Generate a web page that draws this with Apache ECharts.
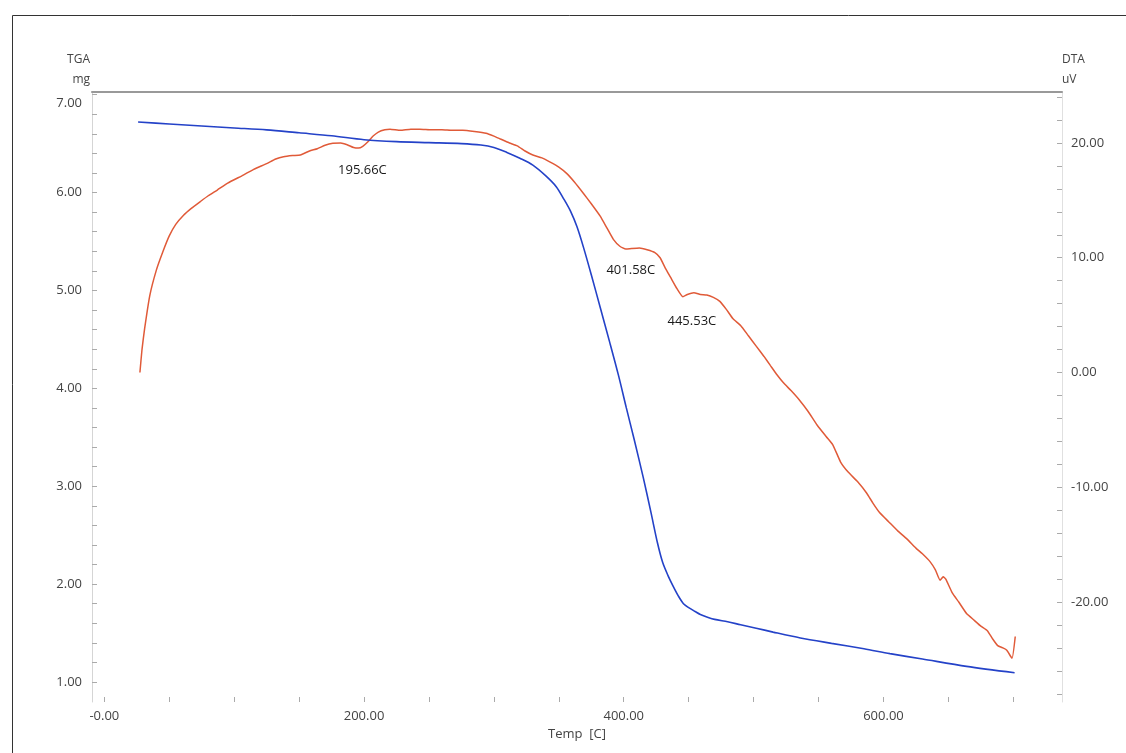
<!DOCTYPE html>
<html>
<head>
<meta charset="utf-8">
<script src="https://cdn.jsdelivr.net/npm/echarts@6/dist/echarts.min.js"></script>
<style>
html,body{margin:0;padding:0;background:#fff;}
#chart{width:1126px;height:753px;}
</style>
</head>
<body>
<div id="chart"></div>
<script>
// ---- Data ----
const tgaTemp = [26,50,75,100,125,150,175,200,225,250,275,290,300,310,320,330,340,348,354,359,364,369,375,382,389,396,402,408,415,421,426,430,434,438,442,446,450,455,459,465,470,480,490,502,515,536,560,585,605,630,664,701];
const tgaMass = [6.72,6.70,6.68,6.66,6.64,6.61,6.58,6.54,6.52,6.51,6.50,6.485,6.46,6.41,6.35,6.28,6.17,6.06,5.93,5.81,5.65,5.44,5.16,4.82,4.48,4.13,3.80,3.48,3.09,2.73,2.42,2.22,2.09,1.98,1.88,1.80,1.76,1.72,1.69,1.66,1.64,1.615,1.585,1.55,1.51,1.45,1.395,1.34,1.29,1.235,1.16,1.095];

const dtaTemp = [27.4,29,31,35,40,45,50,55,61,67,74,80,87,95,107,115,125,132,138,145,151,158,164,170,176,182,187,192,195.66,199,203,207,211,216,220,228,236,243,252,260,268,276,285,294,300,305,312,318,324,330,337,343,350,356,362,369,375,382,387,392,397,401.58,406,412,418,424,428,432,436,441,445.53,449,454,459,464,469,474,479,484,490,496,502,508,513,518,523,529,536,542,549,556,561,567,573,580,587,592,597,604,611,618,625,630,636,640,643.6,646,648,653,658,664,670,675,680,684,688,692,695,699,701.5];
const dtaSignal = [0.0,2.0,3.8,6.7,8.9,10.5,11.9,12.9,13.7,14.3,14.9,15.4,15.9,16.5,17.2,17.7,18.2,18.6,18.8,18.9,18.95,19.3,19.5,19.8,19.97,20.0,19.85,19.6,19.55,19.7,20.1,20.6,20.95,21.15,21.2,21.1,21.2,21.2,21.15,21.15,21.1,21.1,21.0,20.85,20.6,20.35,20.0,19.75,19.3,18.95,18.7,18.35,17.9,17.35,16.6,15.6,14.7,13.6,12.6,11.6,11.0,10.75,10.8,10.85,10.7,10.45,10.0,9.1,8.3,7.3,6.6,6.8,6.95,6.8,6.75,6.55,6.2,5.5,4.7,4.1,3.2,2.3,1.4,0.6,-0.2,-0.9,-1.6,-2.5,-3.4,-4.6,-5.6,-6.3,-7.8,-8.7,-9.5,-10.5,-11.4,-12.2,-13.0,-13.8,-14.5,-15.3,-15.8,-16.5,-17.2,-18.1,-17.8,-18.0,-19.2,-20.0,-21.0,-21.6,-22.1,-22.5,-23.2,-23.8,-24.0,-24.2,-24.9,-23.0];

const peakTemps = [195.66, 401.58, 445.53];
const peakLabels = ['195.66C', '401.58C', '445.53C'];

const tempTickLabels = [0, 200, 400, 600];
const tgaTickLabels = [1, 2, 3, 4, 5, 6, 7];
const dtaTickLabels = [-20, -10, 0, 10, 20];

// ---- Build ----
function range(a, b, step) { const r = []; for (let v = a; v <= b + 1e-9; v += step) r.push(+v.toFixed(4)); return r; }
const tgaData = tgaTemp.map((t, i) => [t, tgaMass[i]]);
const dtaData = dtaTemp.map((t, i) => [t, dtaSignal[i]]);
const peakOffsets = [[4, 22], [5, 21], [9, 25]];
const peakPoints = peakTemps.map((t, i) => {
  const idx = dtaTemp.indexOf(t);
  return { coord: [t, dtaSignal[idx]], label: { formatter: peakLabels[i], offset: peakOffsets[i] } };
});

const FONT = 'Open Sans';
const LABEL_COLOR = '#444';
const chart = echarts.init(document.getElementById('chart'), null, { renderer: 'canvas' });
chart.setOption({
  animation: false,
  backgroundColor: '#fff',
  textStyle: { fontFamily: FONT },
  graphic: [{
    type: 'rect', left: 10, top: 13, silent: true, z: -1,
    shape: { width: 1200, height: 800 },
    style: { fill: 'none', stroke: '#333', lineWidth: 1 }
  }],
  grid: { left: 92, right: 64, top: 92, bottom: 51, containLabel: false },
  xAxis: [{
    type: 'value', min: -9.5, max: 737.5, position: 'bottom',
    name: 'Temp  [C]', nameLocation: 'middle', nameGap: 26,
    nameTextStyle: { color: LABEL_COLOR, fontSize: 13, fontFamily: FONT },
    axisLine: { show: false, onZero: false },
    axisTick: { show: true, inside: true, length: 5, customValues: range(0, 700, 50), lineStyle: { color: '#aaa' } },
    axisLabel: { customValues: tempTickLabels, color: LABEL_COLOR, fontSize: 13, margin: 8, fontFamily: FONT,
      formatter: v => v === 0 ? '-0.00' : v.toFixed(2) },
    splitLine: { show: false }
  }, {
    type: 'value', min: -9.5, max: 737.5, position: 'top',
    axisLine: { show: true, onZero: false, lineStyle: { color: '#999', width: 2 } },
    axisTick: { show: false }, axisLabel: { show: false }, splitLine: { show: false }
  }],
  yAxis: [{
    type: 'value', min: 0.796, max: 7.027, position: 'left',
    name: 'TGA\nmg', nameLocation: 'end', nameGap: 2,
    nameTextStyle: { color: LABEL_COLOR, fontSize: 12, align: 'right', lineHeight: 20, padding: [0, 2, 0, 0], fontFamily: FONT },
    axisLine: { show: true, onZero: false, lineStyle: { color: '#d5d5d5', width: 1 } },
    axisTick: { show: true, inside: true, length: 5, customValues: range(1, 7, 0.2), lineStyle: { color: '#aaa' } },
    axisLabel: { customValues: tgaTickLabels, color: LABEL_COLOR, fontSize: 13, margin: 10, fontFamily: FONT,
      formatter: v => v === 7 ? '{low|' + v.toFixed(2) + '}' : v.toFixed(2),
      rich: { low: { color: LABEL_COLOR, fontSize: 13, fontFamily: FONT, padding: [17, 0, 0, 0] } } },
    splitLine: { show: false }
  }, {
    type: 'value', min: -28.71, max: 24.44, position: 'right',
    name: 'DTA\nuV', nameLocation: 'end', nameGap: 2,
    nameTextStyle: { color: LABEL_COLOR, fontSize: 12, align: 'left', lineHeight: 20, padding: [0, 0, 0, 0], fontFamily: FONT },
    axisLine: { show: true, onZero: false, lineStyle: { color: '#e0e0e0', width: 1 } },
    axisTick: { show: true, inside: true, length: 5, customValues: range(-28, 24, 2), lineStyle: { color: '#aaa' } },
    axisLabel: { customValues: dtaTickLabels, color: LABEL_COLOR, fontSize: 13, margin: 9, fontFamily: FONT,
      formatter: v => v.toFixed(2) },
    splitLine: { show: false }
  }],
  series: [{
    name: 'TGA', type: 'line', xAxisIndex: 0, yAxisIndex: 0, data: tgaData,
    showSymbol: false, smooth: 0.3, lineStyle: { color: '#2442c8', width: 1.6 }, z: 3
  }, {
    name: 'DTA', type: 'line', xAxisIndex: 0, yAxisIndex: 1, data: dtaData,
    showSymbol: false, smooth: 0.15, lineStyle: { color: '#e05a38', width: 1.5 }, z: 2,
    markPoint: {
      symbol: 'circle', symbolSize: 0, silent: true,
      label: { show: true, position: 'inside', color: '#1a1a1a', fontSize: 13, fontFamily: FONT },
      data: peakPoints
    }
  }]
});
</script>
</body>
</html>
